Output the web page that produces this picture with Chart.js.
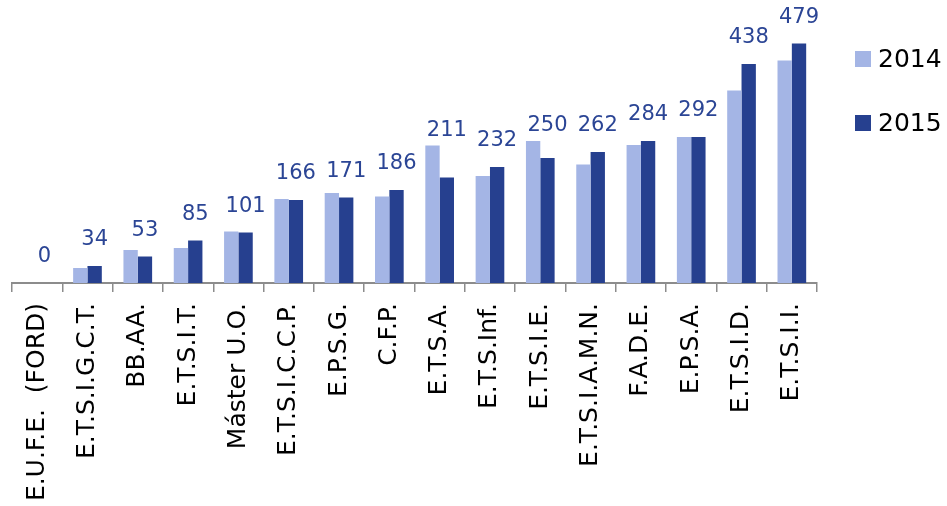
<!DOCTYPE html>
<html>
<head>
<meta charset="utf-8">
<script src="https://cdn.jsdelivr.net/npm/chart.js@4"></script>
<style>
  html, body { margin: 0; padding: 0; background: #fff; }
  #wrap { position: relative; width: 947px; height: 506px; }
  .leg { position: absolute; left: 855px; font: 25px "DejaVu Sans", sans-serif; color: #000; line-height: 16px; white-space: nowrap; }
  .leg span { display: inline-block; width: 16px; height: 16px; vertical-align: top; margin-right: 7px; }
</style>
</head>
<body>
<div id="wrap">
  <canvas id="chart" width="947" height="506"></canvas>
  <div class="leg" style="top:51px"><span style="background:#a4b5e5"></span>2014</div>
  <div class="leg" style="top:115px"><span style="background:#26408f"></span>2015</div>
</div>
<script>
const categories = ['E.U.F.E.  (FORD)', 'E.T.S.I.G.C.T.', 'BB.AA.', 'E.T.S.I.T.', 'Máster U.O.',
    'E.T.S.I.C.C.P.', 'E.P.S.G.', 'C.F.P.', 'E.T.S.A.', 'E.T.S.Inf.', 'E.T.S.I.E.',
    'E.T.S.I.A.M.N.', 'F.A.D.E.', 'E.P.S.A.', 'E.T.S.I.D.', 'E.T.S.I.I.'];
const values2014 = [0, 30, 66, 70, 103, 168, 180, 173, 275, 214, 284, 237, 276, 292, 385, 445];
const values2015 = [0, 34, 53, 85, 101, 166, 171, 186, 211, 232, 250, 262, 284, 292, 438, 479];

const LIGHT = '#a4b5e5';
const DARK = '#26408f';

// value labels (2015) over each group, pushed up when the 2014 bar is taller
const topLabels = {
    id: 'topLabels',
    afterDatasetsDraw(chart) {
        const ctx = chart.ctx;
        const m14 = chart.getDatasetMeta(0).data;
        const m15 = chart.getDatasetMeta(1).data;
        ctx.save();
        ctx.font = '21px "DejaVu Sans", sans-serif';
        ctx.fillStyle = '#2b4595';
        ctx.textAlign = 'center';
        ctx.textBaseline = 'middle';
        m15.forEach((bar, i) => {
            const y = Math.min(bar.y - 26, m14[i].y - 15);
            ctx.fillText(String(values2015[i]), bar.x, y);
        });
        ctx.restore();
    }
};

new Chart(document.getElementById('chart'), {
    type: 'bar',
    data: {
        labels: categories,
        datasets: [{
            label: '2014',
            data: values2014,
            backgroundColor: LIGHT,
            categoryPercentage: 0.57,
            barPercentage: 1.0
        }, {
            label: '2015',
            data: values2015,
            backgroundColor: DARK,
            categoryPercentage: 0.57,
            barPercentage: 1.0
        }]
    },
    options: {
        responsive: false,
        animation: false,
        layout: { padding: { left: 12, right: 130, top: 33, bottom: 0 } },
        plugins: {
            legend: { display: false },
            tooltip: { enabled: false }
        },
        scales: {
            y: { display: false, min: 0, max: 500 },
            x: {
                afterFit(scale) { scale.height = 223; },
                grid: {
                    offset: true,
                    drawOnChartArea: false,
                    drawTicks: true,
                    tickLength: 9,
                    color: '#8c8c8c',
                    lineWidth: 1.5
                },
                border: { display: true, color: '#8c8c8c', width: 2 },
                ticks: {
                    color: '#000',
                    font: { family: '"DejaVu Sans", sans-serif', size: 25 },
                    maxRotation: 90,
                    minRotation: 90,
                    autoSkip: false,
                    padding: 11
                }
            }
        }
    },
    plugins: [topLabels]
});
</script>
</body>
</html>
